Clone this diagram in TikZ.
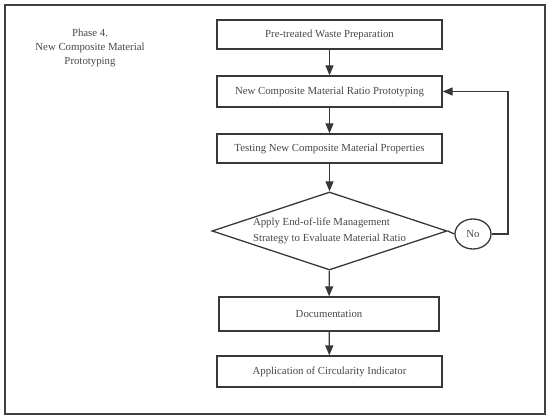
\documentclass[tikz,border=0pt]{standalone}
\usepackage{fontspec}
\setmainfont{Liberation Serif}
\usepackage{tikz}
\usetikzlibrary{arrows.meta,shapes.geometric}

\begin{document}
\begin{tikzpicture}[x=1pt,y=-1pt]
\tikzstyle{every node}+=[inner sep=0pt, text=black!72, font=\fontsize{10.8}{13.6}\selectfont]
\tikzstyle{stepbox}=[draw=black!78, line width=1.3pt, minimum height=30pt]
\tikzstyle{flow}=[draw=black!78, line width=1.3pt, -{Triangle[length=10pt,width=8pt]}]
\useasboundingbox (0,0) rectangle (550,419);
\draw [black!75, line width=1.5pt] (5,5) rectangle (545,414);
\node (phase) [align=center] at (90,48) {Phase 4.\\New Composite Material\\Prototyping};
\node (prep) [stepbox, minimum width=225pt, minimum height=29pt] at (329.5,34.5) {Pre-treated Waste Preparation};
\node (ratio) [stepbox, minimum width=225pt, minimum height=31pt] at (329.5,91.5) {New Composite Material Ratio Prototyping};
\node (test) [stepbox, minimum width=225pt, minimum height=29pt] at (329.5,148.5) {Testing New Composite Material Properties};
\node (eval) [draw=black!78, line width=1.3pt, shape=diamond, aspect=3, minimum width=235pt, minimum height=78pt, align=left, font=\fontsize{10.8}{16}\selectfont] at (329.5,231) {Apply End-of-life Management\\Strategy to Evaluate Material Ratio};
\node (no) [draw=black!78, line width=1.3pt, shape=ellipse, minimum width=36pt, minimum height=30pt] at (473,234) {No};
\node (doc) [stepbox, minimum width=220pt, minimum height=34pt] at (329,314) {Documentation};
\node (indic) [stepbox, minimum width=225pt, minimum height=31pt] at (329.5,371.5) {Application of Circularity Indicator};
\coordinate (bend) at (508,234);
\draw [flow] (prep) -- (ratio);
\draw [flow] (ratio) -- (test);
\draw [flow] (test) -- (eval);
\draw [draw=black!78, line width=1.3pt] (eval.east) -- (no.west);
\draw [flow] (no.east) -- (bend) |- (ratio.east);
\draw [flow] (eval) -- (doc);
\draw [flow] (doc) -- (indic);
\end{tikzpicture}
\end{document}
